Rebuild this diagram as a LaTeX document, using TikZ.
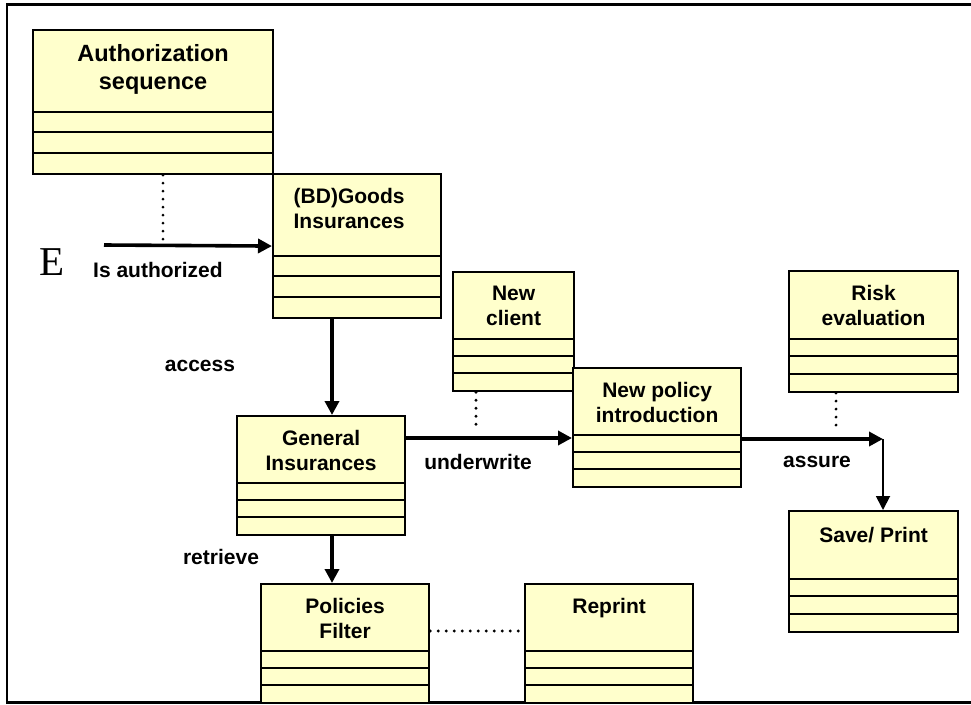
\documentclass[tikz,border=0pt]{standalone}
\usepackage{fontspec}
\setmainfont{Liberation Sans}
\newfontfamily\serifletter{Liberation Serif}
\usetikzlibrary{arrows.meta, calc, positioning}
\definecolor{classfill}{HTML}{FFFFCC}

\begin{document}
\begin{tikzpicture}[x=1pt, y=-1pt,
    classbody/.style={draw, fill=classfill, line width=2.2pt, inner sep=0pt},
    classtitle/.style={font=\bfseries\fontsize{21}{25}\selectfont, align=center, inner sep=0pt},
    bigtitle/.style={font=\bfseries\fontsize{23.5}{28}\selectfont},
    classrow/.style={line width=2pt},
    flow/.style={line width=3.6pt, -{Triangle[length=14pt, width=14pt]}},
    thinflow/.style={line width=1.8pt, -{Triangle[length=14pt, width=14pt]}},
    assoc/.style={line width=3.2pt, line cap=round, dash pattern=on 0pt off 8pt},
    linklabel/.style={font=\bfseries\fontsize{21}{25}\selectfont, inner sep=0pt}]

%% Class box : name, x, y, width, title height, row height, title, title options
\def\classbox#1#2#3#4#5#6#7#8{%
    \pgfmathsetmacro\classh{#5+3*#6}
    \node[classbody, anchor=north west, minimum width=#4, minimum height=\classh] (#1) at (#2,#3) {};
    \node[classtitle, anchor=north, #8] (#1title) at ($(#1.north)+(0,15)$) {#7};
    \foreach \r in {0,1,2}
        \draw[classrow] ($(#1.north west)+(0,#5+\r*#6)$) -- ($(#1.north east)+(0,#5+\r*#6)$);
}

    \useasboundingbox (0,0) rectangle (971,704);
    \draw[line width=2.4pt] (971,4.5) -- (7,4.5) -- (7,702.5) -- (971,702.5);


    %% the classes
    \classbox{auth}{32}{29}{240}{83}{20.3}{Authorization\\sequence}{bigtitle}
    \classbox{goods}{272}{173}{168}{83}{20.3}{(BD)Goods\\Insurances}{xshift=-8pt}
    \classbox{general}{236}{415}{168}{68}{17}{General\\Insurances}{}
    \classbox{policies}{260}{583}{168}{68}{17}{Policies\\Filter}{}
    \classbox{reprint}{524}{583}{168}{68}{17}{Reprint}{}
    \classbox{newclient}{452}{271}{121}{68}{17}{New\\client}{}
    \classbox{newpolicy}{572}{367}{168}{68}{17}{New policy\\introduction}{}
    \classbox{risk}{788}{270}{169}{69}{17.3}{Risk\\evaluation}{}
    \classbox{save}{788}{510}{169}{69}{17.3}{Save/ Print}{yshift=-2pt}


    %% actor
    \node[font=\serifletter\fontsize{41}{41}\selectfont, inner sep=0pt] (actorE) at (52,262) {E};

    \coordinate (isauthstart) at (104,245);
    \coordinate (authdot) at (163,241);
    \draw[flow] (isauthstart) -- (goods.west);
    \draw[assoc] (auth.south -| authdot) -- (authdot);
    \node[linklabel] (isauthlabel) at (158,270) {Is authorized};


    %% access / retrieve
    \draw[flow] ($(goods.south west)+(60,0)$) -- ($(general.north west)+(96,0)$);
    \node[linklabel] (accesslabel) at (200,366) {access};

    \draw[flow] ($(general.south west)+(96,0)$) -- ($(policies.north west)+(72,0)$);
    \node[linklabel] (retrievelabel) at (221,557) {retrieve};

    \draw[assoc] ($(policies.north east)+(0,48)$) -- ($(reprint.north west)+(0,48)$);


    %% underwrite
    \coordinate (clientdot) at (476,432);
    \draw[flow] ($(general.north east)+(0,23)$) -- ($(newpolicy.north west)+(0,71)$);
    \draw[assoc] (newclient.south -| clientdot) -- (clientdot);
    \node[linklabel] (underwritelabel) at (478,462) {underwrite};


    %% assure
    \coordinate (assuretip) at (883,439);
    \coordinate (riskdot) at (836,432);
    \draw[flow] (newpolicy.east |- assuretip) -- (assuretip);
    \draw[thinflow] (assuretip) -- (assuretip |- save.north);
    \draw[assoc] (risk.south -| riskdot) -- (riskdot);
    \node[linklabel] (assurelabel) at (817,462) {assure};

\end{tikzpicture}
\end{document}
